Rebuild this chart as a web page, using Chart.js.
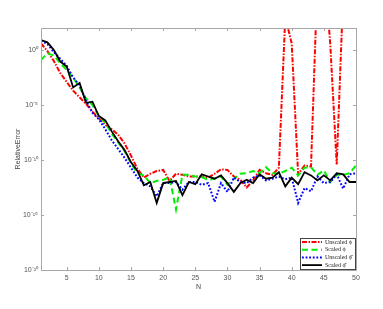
<!DOCTYPE html>
<html><head><meta charset="utf-8">
<script src="https://cdn.jsdelivr.net/npm/chart.js@4/dist/chart.umd.min.js"></script>
<style>html,body{margin:0;padding:0;background:#fff;}canvas{display:block;}</style>
</head><body>
<canvas id="c" width="383" height="309"></canvas>
<script>
// N values
const nValues = [1,2,3,4,5,6,7,8,9,10,11,12,13,14,15,16,17,18,19,20,21,22,23,24,25,26,27,28,29,30,31,32,33,34,35,36,37,38,39,40,41,42,43,44,45,46,47,48,49,50];
// log10 of relative error
const unscaledPhiExp = [0.6,-0.1,-1.0,-2.1,-2.9,-3.7,-4.3,-4.9,-5.6,-6.2,-6.8,-7.2,-7.7,-8.5,-9.6,-10.8,-11.6,-11.25,-11.0,-10.9,-11.9,-11.25,-11.35,-11.5,-11.5,-11.5,-11.6,-11.25,-10.85,-10.9,-11.5,-11.8,-12.5,-11.85,-10.9,-11.2,-11.35,-10.7,3.0,0.6,-11.3,-10.5,-10.6,6.5,8.0,0.5,-10.4,5.0,7.0,9.0];
const scaledPhiExp = [-0.9,-0.3,-0.5,-1.2,-1.8,-2.5,-3.4,-4.4,-5.0,-6.0,-6.6,-7.6,-8.4,-9.2,-10.3,-11.2,-11.4,-12.1,-11.9,-11.8,-11.6,-14.5,-11.35,-11.35,-11.5,-11.55,-11.8,-11.7,-11.5,-12.25,-11.7,-11.25,-11.2,-11.0,-11.2,-10.65,-11.2,-11.25,-11.0,-10.7,-11.4,-10.7,-10.65,-11.35,-10.95,-12.0,-11.35,-11.35,-11.2,-10.5];
const unscaledPhiHatExp = [0.85,0.55,-0.2,-0.8,-1.45,-2.5,-3.2,-4.6,-5.7,-6.3,-7.2,-8.2,-9.0,-9.8,-10.7,-11.6,-12.1,-12.4,-13.3,-12.1,-12.1,-12.0,-12.7,-12.0,-12.0,-12.25,-12.1,-13.8,-12.1,-12.9,-11.6,-12.0,-12.1,-11.6,-11.4,-11.85,-11.7,-11.5,-11.75,-11.6,-13.9,-12.55,-12.85,-11.5,-12.1,-12.0,-11.3,-12.6,-11.3,-11.2];
const scaledPhiHatExp = [0.9,0.7,0.0,-1.05,-1.5,-3.4,-3.0,-4.8,-4.7,-6.0,-6.4,-7.4,-8.3,-9.1,-10.2,-11.0,-12.3,-12.0,-13.9,-12.1,-12.0,-11.9,-13.2,-12.0,-12.2,-11.3,-11.5,-11.7,-11.4,-12.1,-12.9,-12.1,-11.8,-12.1,-11.3,-11.7,-11.6,-11.1,-12.4,-11.6,-12.2,-11.1,-11.4,-11.85,-11.4,-11.85,-11.2,-11.3,-12.0,-12.0];
const seriesLabels = ['Unscaled \u03D5','Scaled \u03D5','Unscaled \u03D5\u0302','Scaled \u03D5\u0302'];
const xTickValues = [5,10,15,20,25,30,35,40,45,50];
const yTickValues = [1e-20,1e-15,1e-10,1e-5,1e0];
const yTickLabels = ['10\u207B\u00B2\u2070','10\u207B\u00B9\u2075','10\u207B\u00B9\u2070','10\u207B\u2075','10\u2070'];

const toPts = exps => nValues.map((n,i)=>({x:n, y:Math.pow(10, exps[i])}));
const AX = '#a8a8a8';

const boxPlugin = {
  id:'boxTicks',
  afterDatasetsDraw(chart){
    const ctx = chart.ctx, a = chart.chartArea;
    const xs = chart.scales.x, ys = chart.scales.y;
    ctx.save();
    ctx.strokeStyle = AX; ctx.lineWidth = 1;
    ctx.beginPath();
    ctx.rect(Math.round(a.left)+0.5, Math.round(a.top)+0.5, Math.round(a.right-a.left), Math.round(a.bottom-a.top));
    ctx.stroke();
    ctx.beginPath();
    xTickValues.forEach(v=>{
      const px = Math.round(xs.getPixelForValue(v))+0.5;
      ctx.moveTo(px, a.bottom); ctx.lineTo(px, a.bottom-3);
      ctx.moveTo(px, a.top); ctx.lineTo(px, a.top+3);
    });
    yTickValues.forEach(v=>{
      const py = Math.round(ys.getPixelForValue(v))+0.5;
      ctx.moveTo(a.left, py); ctx.lineTo(a.left+3, py);
      ctx.moveTo(a.right, py); ctx.lineTo(a.right-3, py);
    });
    ctx.stroke();
    // legend
    const ds = chart.data.datasets;
    const w = 56, h = 32;
    const lx = a.right - w, ly = a.bottom - h;
    ctx.fillStyle = '#fff';
    ctx.fillRect(lx, ly, w, h);
    ctx.strokeStyle = '#444';
    ctx.strokeRect(Math.round(lx)+0.5, Math.round(ly)+0.5, w-1, h-1);
    ctx.font = '6px "Liberation Serif", serif';
    ctx.textBaseline = 'middle';
    ds.forEach((d,i)=>{
      const yy = ly + 4 + i*7.7;
      ctx.save();
      ctx.strokeStyle = d.borderColor; ctx.lineWidth = d.borderWidth;
      ctx.setLineDash(d.borderDash || []);
      ctx.beginPath(); ctx.moveTo(lx+2, yy); ctx.lineTo(lx+22, yy); ctx.stroke();
      ctx.restore();
      ctx.fillStyle = '#222';
      ctx.fillText(d.label, lx+25, yy);
    });
    ctx.restore();
  }
};

new Chart(document.getElementById('c'), {
  type:'line',
  data:{datasets:[
    {label:seriesLabels[0], data:toPts(unscaledPhiExp), borderColor:'#ff0000', borderWidth:2, borderDash:[5,1.5,1.5,1.5], order:3},
    {label:seriesLabels[1], data:toPts(scaledPhiExp), borderColor:'#00ee00', borderWidth:2, borderDash:[6,3.5], order:2},
    {label:seriesLabels[2], data:toPts(unscaledPhiHatExp), borderColor:'#0000ff', borderWidth:2, borderDash:[1.8,1.8], order:1},
    {label:seriesLabels[3], data:toPts(scaledPhiHatExp), borderColor:'#000000', borderWidth:1.8, order:0}
  ]},
  options:{
    responsive:false, animation:false, devicePixelRatio:1,
    layout:{padding:{top:28, right:27, left:0, bottom:0}},
    elements:{point:{radius:0}, line:{tension:0, fill:false}},
    datasets:{line:{clip:0}},
    plugins:{legend:{display:false}, tooltip:{enabled:false}},
    scales:{
      x:{type:'linear', min:1, max:50, position:'bottom',
        afterBuildTicks(s){ s.ticks = xTickValues.map(v=>({value:v})); },
        afterFit(s){ s.height = 39; },
        grid:{display:false, drawTicks:false}, border:{display:false},
        ticks:{color:'#555', font:{family:'"Liberation Sans", Arial, sans-serif', size:7}, padding:4, maxRotation:0, autoSkip:false},
        title:{display:true, text:'N', color:'#444', font:{family:'"Liberation Sans", Arial, sans-serif', size:7}, padding:{top:0,bottom:18}}
      },
      y:{type:'logarithmic', min:1e-20, max:1e2, position:'left',
        afterBuildTicks(s){ s.ticks = yTickValues.map(v=>({value:v})); },
        afterFit(s){ s.width = 41; },
        grid:{display:false, drawTicks:false}, border:{display:false},
        ticks:{color:'#555', font:{family:'"Liberation Sans", Arial, sans-serif', size:7}, padding:3, autoSkip:false,
          callback:(v)=>{ const i = yTickValues.findIndex(t=>Math.abs(Math.log10(t)-Math.log10(v))<1e-6); return i>=0 ? yTickLabels[i] : ''; }},
        title:{display:true, text:'RelativeError', color:'#444', font:{family:'"Liberation Sans", Arial, sans-serif', size:7}, padding:{top:14,bottom:0}}
      }
    }
  },
  plugins:[boxPlugin]
});
</script>
</body></html>
